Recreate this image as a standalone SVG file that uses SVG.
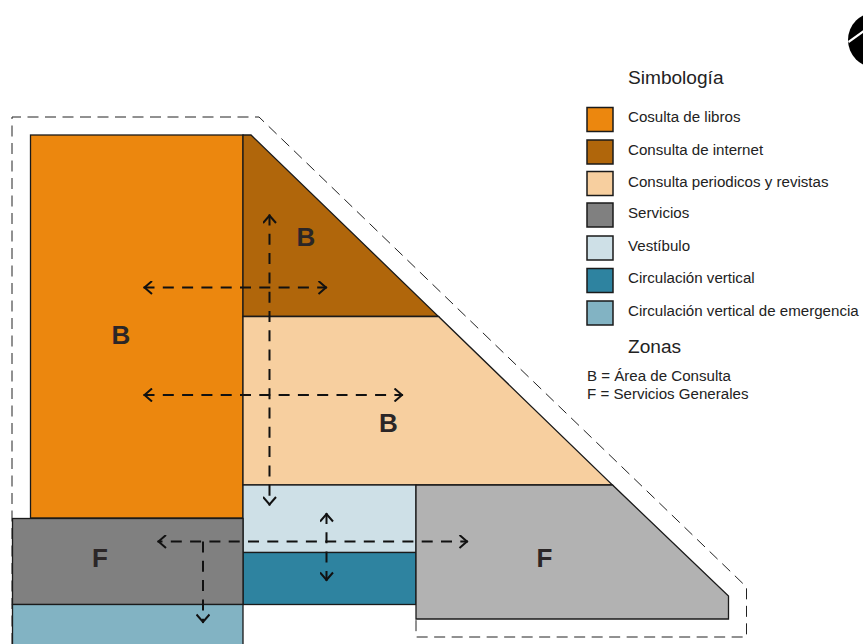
<svg xmlns="http://www.w3.org/2000/svg" width="863" height="644" viewBox="0 0 863 644">
<style>
.z{stroke:#1a1a1a;stroke-width:1.3;stroke-linejoin:miter}
.k{stroke:#1a1a1a;stroke-width:1.5}
.t{font-family:"Liberation Sans",Arial,sans-serif;font-size:15.100px;fill:#222}
.h{font-family:"Liberation Sans",Arial,sans-serif;font-size:19.100px;fill:#222}
.l{font-family:"Liberation Sans",Arial,sans-serif;font-size:26px;font-weight:bold;fill:#2b2627}
.a{fill:none;stroke:#111;stroke-width:2;stroke-dasharray:11 8.3;marker-start:url(#ah);marker-end:url(#ah)}
.b{fill:none;stroke:#111;stroke-width:2;stroke-dasharray:11 8.3}
</style>
<defs>
<marker id="ah" viewBox="-9 -7 11 14" refX="1" refY="0" markerUnits="userSpaceOnUse" markerWidth="11" markerHeight="14" orient="auto-start-reverse">
<path d="M-7.500-6.500L0 0L-7.500 6.500" fill="none" stroke="#111" stroke-width="2"/>
</marker>
</defs>
<g id="logo"><circle cx="875.500" cy="40" r="27.500" fill="#000"/><path d="M848 41L866 28L866 31L849 43Z" fill="#fff"/></g>
<path id="limite" d="M12 644V117H259L746.500 587V637H416V619" fill="none" stroke="#222" stroke-width="1" stroke-dasharray="11 6.500"/>
<g id="libros"><rect class="z" x="30.500" y="135" width="212.500" height="383" fill="#ec870e"/><text class="l" x="121" y="344" text-anchor="middle">B</text></g>
<g id="internet"><path class="z" d="M243 135H251L438.500 316.500H243Z" fill="#b0660b"/><text class="l" x="306" y="246" text-anchor="middle">B</text></g>
<g id="periodicos"><path class="z" d="M243 316.500H438.500L612.500 485H243Z" fill="#f7cf9f"/><text class="l" x="388.500" y="432" text-anchor="middle">B</text></g>
<g id="vestibulo"><rect class="z" x="243" y="485" width="173" height="67.500" fill="#cee0e7"/></g>
<g id="circulacion"><rect class="z" x="243" y="552.500" width="173" height="52" fill="#2e83a0"/></g>
<g id="servicios2"><path class="z" d="M416 485H612.500L728.500 596V619H416Z" fill="#b2b2b2"/><text class="l" x="544.500" y="567" text-anchor="middle">F</text></g>
<g id="servicios1"><rect class="z" x="12.500" y="518.500" width="230.500" height="86" fill="#808080"/><text class="l" x="100" y="567" text-anchor="middle">F</text></g>
<g id="emergencia"><rect class="z" x="12.500" y="604.500" width="230.500" height="45" fill="#82b3c3"/></g>
<g id="conectores">
<path class="a" d="M143.500 287.500H327"/>
<path class="a" d="M143.500 395H403"/>
<path class="a" d="M269.500 214.500V505.500"/>
<path class="a" d="M157.500 541.500H468" stroke-dashoffset="6"/>
<path class="b" d="M203 541.500V623" marker-end="url(#ah)"/>
<path class="a" d="M326.500 513V581"/>
</g>
<g id="leyenda">
<text class="h" x="628" y="84">Simbología</text>
<rect class="k" x="587" y="107.500" width="26" height="24" fill="#ec870e"/><text class="t" x="628" y="122">Cosulta de libros</text>
<rect class="k" x="587" y="140" width="26" height="24" fill="#b0660b"/><text class="t" x="628" y="155">Consulta de internet</text>
<rect class="k" x="587" y="171.500" width="26" height="24" fill="#f7cf9f"/><text class="t" x="628" y="187">Consulta periodicos y revistas</text>
<rect class="k" x="587" y="203" width="26" height="24" fill="#808080"/><text class="t" x="628" y="218">Servicios</text>
<rect class="k" x="587" y="236" width="26" height="24" fill="#cee0e7"/><text class="t" x="628" y="251">Vestíbulo</text>
<rect class="k" x="587" y="268.500" width="26" height="24" fill="#2e83a0"/><text class="t" x="628" y="283">Circulación vertical</text>
<rect class="k" x="587" y="301" width="26" height="24" fill="#82b3c3"/><text class="t" x="628" y="316">Circulación vertical de emergencia</text>
<text class="h" x="628" y="353">Zonas</text>
<text class="t" x="587" y="381">B = Área de Consulta</text>
<text class="t" x="587" y="399">F = Servicios Generales</text>
</g>
</svg>
